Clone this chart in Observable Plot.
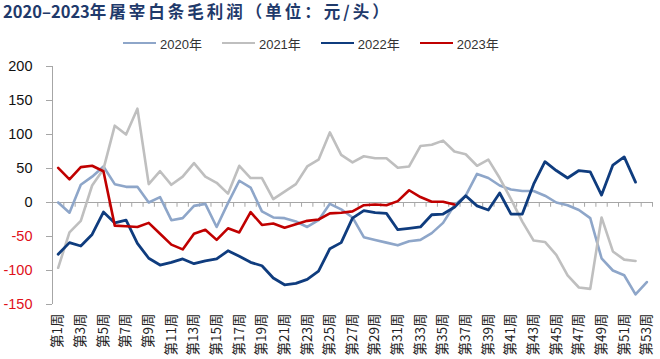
<!DOCTYPE html>
<html>
<head>
<meta charset="utf-8">
<script src="https://cdn.jsdelivr.net/npm/d3@7"></script>
<script src="https://cdn.jsdelivr.net/npm/@observablehq/plot@0.6"></script>
<style>
  html, body { margin: 0; padding: 0; background: #fff; }
  #wrap { position: relative; width: 660px; height: 359px; overflow: hidden; font-family: "Liberation Sans", "Noto Sans CJK SC", sans-serif; }
  #title { position: absolute; left: 3px; top: 0px; font-family: "Noto Sans CJK SC", sans-serif; font-weight: bold; font-size: 16.5px; line-height: 22px; color: #1f3a6b; white-space: nowrap; }
  #title .cjk { letter-spacing: 3px; }
  #legend { position: absolute; left: 123px; top: 34px; display: flex; align-items: center; height: 18px; }
  .item { display: flex; align-items: center; margin-right: 20px; font-size: 13px; color: #333; }
  .sw { width: 33px; height: 2.5px; margin-right: 4px; }
  #chart { position: absolute; left: 0; top: 55px; }
</style>
</head>
<body>
<div id="wrap">
  <div id="title">2020–2023<span class="cjk">年屠宰白条毛利润（单位：元/头）</span></div>
  <div id="legend"></div>
  <div id="chart"></div>
</div>
<script>
const years = ["2020年", "2021年", "2022年", "2023年"];
const colors = ["#8ea6c9", "#bfbfbf", "#0f3c7e", "#c00000"];
const widths = [2.6, 2.6, 2.8, 2.6];

const s2020 = [0,-15,26,38,53,27,23,23,0,8,-26,-23,-5,-2,-36,-1,32,22,-13,-22,-23,-28,-36,-26,-2,-10,-22,-51,-55,-59,-63,-57,-55,-45,-30,-4,10,42,36,25,19,17,17,10,0,-4,-11,-23,-82,-100,-107,-135,-117];
const s2021 = [-96,-44,-27,25,49,113,100,138,27,46,26,38,58,38,29,13,54,36,36,5,16,27,53,63,103,70,59,68,65,65,51,53,83,85,91,75,71,54,63,36,5,-28,-56,-58,-77,-107,-125,-127,-22,-72,-84,-86];
const s2022 = [-76,-59,-64,-47,-14,-30,-26,-60,-82,-92,-88,-83,-90,-86,-83,-71,-79,-88,-93,-111,-121,-119,-113,-101,-68,-59,-23,-12,-15,-16,-40,-38,-36,-18,-17,-7,10,-5,-11,14,-17,-17,27,60,47,36,47,45,11,55,67,30];
const s2023 = [51,34,52,54,46,-34,-35,-36,-30,-46,-62,-69,-46,-40,-55,-38,-44,-14,-33,-31,-37,-32,-27,-25,-16,-15,-13,-4,-3,-4,2,18,8,1,1,-3];

const weekCount = 53;
const xTickWeeks = [1,3,5,7,9,11,13,15,17,19,21,23,25,27,29,31,33,35,37,39,41,43,45,47,49,51,53];
const yPosTicks = [0, 50, 100, 150, 200];
const yNegTicks = [-50, -100, -150];

const seriesList = [s2020, s2021, s2022, s2023];
const rows = [];
seriesList.forEach((s, i) => s.forEach((v, j) => rows.push({week: j + 1, value: v, year: years[i]})));

const weeks = d3.range(1, weekCount + 1);
const boundaries = weeks.map(w => w + 0.5);
const xMin = 0.5, xMax = weekCount + 0.5;

// legend
const legend = document.getElementById("legend");
years.forEach((y, i) => {
  const it = document.createElement("div");
  it.className = "item";
  it.innerHTML = `<div class="sw" style="background:${colors[i]}"></div><span>${y}</span>`;
  legend.appendChild(it);
});

const font = "Liberation Sans, Noto Sans CJK SC, sans-serif";
const plot = Plot.plot({
  width: 660,
  height: 304,
  marginLeft: 52,
  marginRight: 8,
  marginTop: 11,
  marginBottom: 55,
  style: {fontFamily: font, background: "transparent", overflow: "visible"},
  x: {type: "linear", domain: [xMin, xMax], axis: null},
  y: {domain: [-150, 200], axis: null},
  marks: [
    Plot.ruleY([0], {stroke: "#a6a6a6", strokeWidth: 1}),
    Plot.ruleX(boundaries, {x: d => d, y1: 0, y2: -7, stroke: "#a6a6a6", strokeWidth: 1}),
    Plot.ruleX([xMin], {y1: -150, y2: 200, stroke: "#a6a6a6", strokeWidth: 1}),
    Plot.axisY(yPosTicks, {label: null, tickSize: 6, tickPadding: 14, stroke: "#a6a6a6", fill: "#111", fontSize: 14.5, fontFamily: font}),
    Plot.axisY(yNegTicks, {label: null, tickSize: 6, tickPadding: 14, stroke: "#a6a6a6", fill: "#e0101a", fontSize: 14.5, fontFamily: font, tickFormat: d => "-" + Math.abs(d)}),
    Plot.axisX(xTickWeeks, {label: null, anchor: "bottom", tickSize: 0, tickPadding: 9, tickRotate: -90, tickFormat: w => `第${w}周`, fontSize: 13.5, fill: "#222", fontFamily: "Noto Sans CJK SC, sans-serif"}),
    ...years.map((y, i) => Plot.line(rows.filter(r => r.year === y), {x: "week", y: "value", stroke: colors[i], strokeWidth: widths[i], strokeLinejoin: "round", strokeLinecap: "round"}))
  ]
});
document.getElementById("chart").appendChild(plot);
</script>
</body>
</html>
